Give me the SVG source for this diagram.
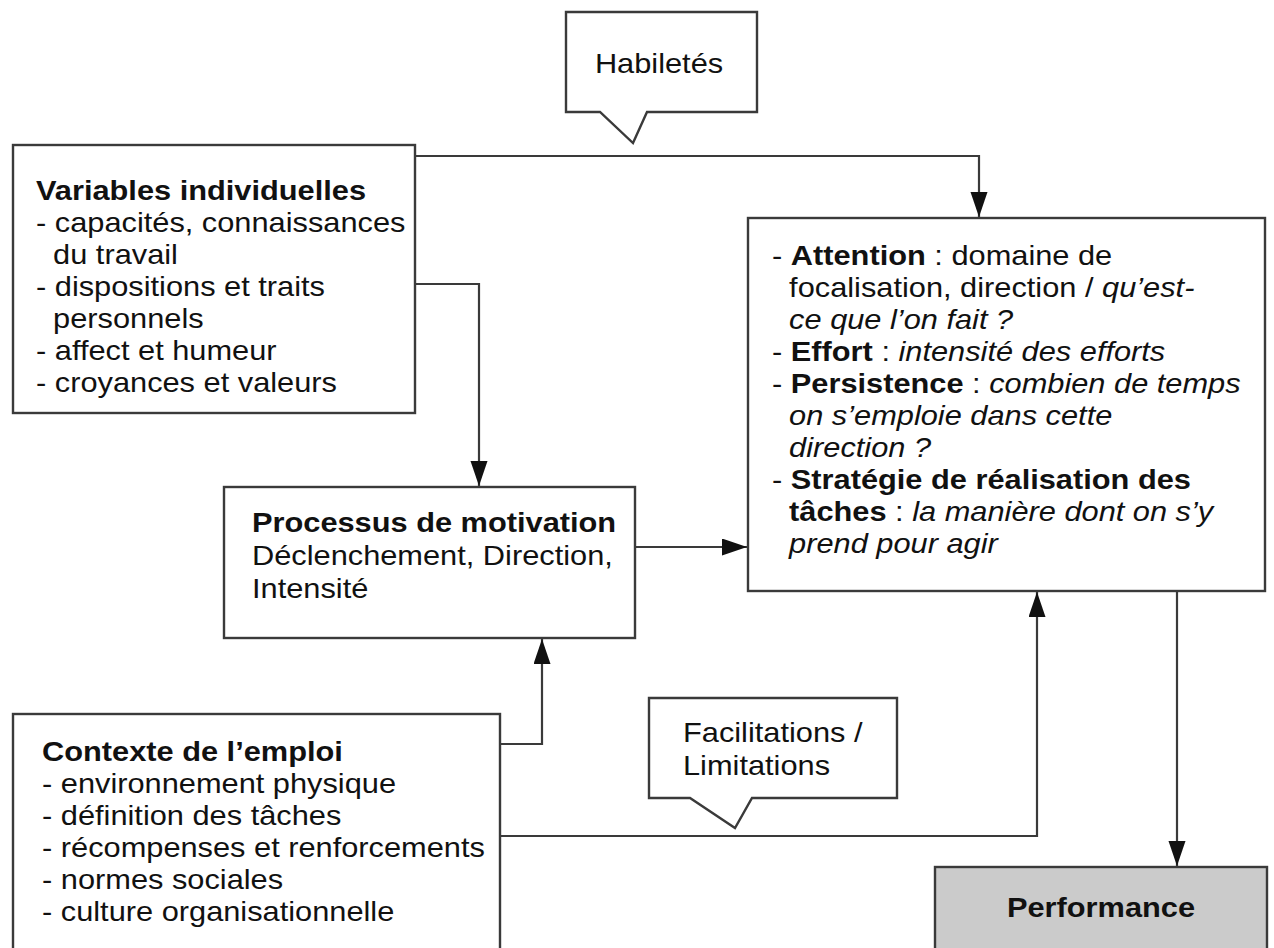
<svg xmlns="http://www.w3.org/2000/svg" width="1274" height="948" viewBox="0 0 1274 948">
  <style>
    .t { font-family: "Liberation Sans", Arial, Helvetica, sans-serif; font-size: 27px; fill: #111; }
    .b { font-weight: bold; }
    .i { font-style: italic; }
    .box { fill: #fff; stroke: #3a3a3a; stroke-width: 2.4; }
    .perf { fill: #cbcbcb; stroke: #3a3a3a; stroke-width: 2.4; }
    .conn { fill: none; stroke: #3a3a3a; stroke-width: 2.2; }
  </style>
  <defs>
    <marker id="arrow" markerUnits="userSpaceOnUse" markerWidth="26" markerHeight="18" refX="25" refY="8.5" orient="auto">
      <path d="M0,0 L25,8.5 L0,17 Z" fill="#111"/>
    </marker>
  </defs>

  <rect width="1274" height="948" fill="#fff"/>

  <!-- connectors -->
  <g id="connectors">
    <path class="conn" d="M415,156 H979 V217" marker-end="url(#arrow)"/>
    <path class="conn" d="M415,284 H479 V486" marker-end="url(#arrow)"/>
    <path class="conn" d="M635,547 H747" marker-end="url(#arrow)"/>
    <path class="conn" d="M500,744 H542 V639" marker-end="url(#arrow)"/>
    <path class="conn" d="M500,836 H1037 V592" marker-end="url(#arrow)"/>
    <path class="conn" d="M1177,591 V866" marker-end="url(#arrow)"/>
  </g>

  <!-- callout: Habiletés -->
  <g id="habiletes">
    <path class="box" d="M566,12 H757 V112 H647 L633,143 L600,112 H566 Z"/>
    <text class="t" text-anchor="middle" transform="translate(659,73) scale(1.14,1)">Habiletés</text>
  </g>

  <!-- individual variables -->
  <g id="variables-individuelles">
    <rect class="box" x="13" y="145" width="402" height="268"/>
    <text class="t" transform="translate(36,200) scale(1.14,1)">
      <tspan x="0" y="0" class="b">Variables individuelles</tspan>
      <tspan x="0" dy="32">- capacités, connaissances</tspan>
      <tspan x="15" dy="32">du travail</tspan>
      <tspan x="0" dy="32">- dispositions et traits</tspan>
      <tspan x="15" dy="32">personnels</tspan>
      <tspan x="0" dy="32">- affect et humeur</tspan>
      <tspan x="0" dy="32">- croyances et valeurs</tspan>
    </text>
  </g>

  <!-- motivation process -->
  <g id="processus-motivation">
    <rect class="box" x="224" y="487" width="411" height="151"/>
    <text class="t" transform="translate(252,532) scale(1.14,1)">
      <tspan x="0" y="0" class="b">Processus de motivation</tspan>
      <tspan x="0" dy="33">Déclenchement, Direction,</tspan>
      <tspan x="0" dy="33">Intensité</tspan>
    </text>
  </g>

  <!-- behaviours -->
  <g id="comportements">
    <rect class="box" x="748" y="218" width="517" height="373"/>
    <text class="t" transform="translate(772,265) scale(1.14,1)">
      <tspan x="0" y="0">- <tspan class="b">Attention</tspan> : domaine de</tspan>
      <tspan x="15" dy="32">focalisation, direction / <tspan class="i">qu’est-</tspan></tspan>
      <tspan x="15" dy="32" class="i">ce que l’on fait ?</tspan>
      <tspan x="0" dy="32">- <tspan class="b">Effort</tspan> : <tspan class="i">intensité des efforts</tspan></tspan>
      <tspan x="0" dy="32">- <tspan class="b">Persistence</tspan> : <tspan class="i">combien de temps</tspan></tspan>
      <tspan x="15" dy="32" class="i">on s’emploie dans cette</tspan>
      <tspan x="15" dy="32" class="i">direction ?</tspan>
      <tspan x="0" dy="32">- <tspan class="b">Stratégie de réalisation des</tspan></tspan>
      <tspan x="15" dy="32"><tspan class="b">tâches</tspan> : <tspan class="i">la manière dont on s’y</tspan></tspan>
      <tspan x="15" dy="32" class="i">prend pour agir</tspan>
    </text>
  </g>

  <!-- job context -->
  <g id="contexte-emploi">
    <rect class="box" x="13" y="714" width="487" height="260"/>
    <text class="t" transform="translate(42,761) scale(1.14,1)">
      <tspan x="0" y="0" class="b">Contexte de l’emploi</tspan>
      <tspan x="0" dy="32">- environnement physique</tspan>
      <tspan x="0" dy="32">- définition des tâches</tspan>
      <tspan x="0" dy="32">- récompenses et renforcements</tspan>
      <tspan x="0" dy="32">- normes sociales</tspan>
      <tspan x="0" dy="32">- culture organisationnelle</tspan>
    </text>
  </g>

  <!-- callout: Facilitations / Limitations -->
  <g id="facilitations">
    <path class="box" d="M649,698 H897 V798 H752 L735,828 L690,798 H649 Z"/>
    <text class="t" transform="translate(683,742) scale(1.14,1)">
      <tspan x="0" y="0">Facilitations /</tspan>
      <tspan x="0" dy="33">Limitations</tspan>
    </text>
  </g>

  <!-- outcome -->
  <g id="performance">
    <rect class="perf" x="935" y="867" width="332" height="110"/>
    <text class="t b" text-anchor="middle" transform="translate(1101,917) scale(1.14,1)">Performance</text>
  </g>
</svg>
